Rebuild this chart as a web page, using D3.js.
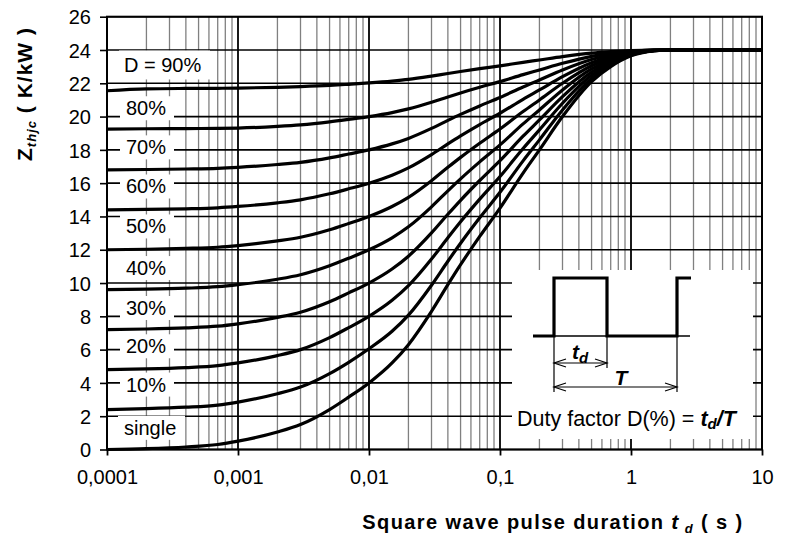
<!DOCTYPE html>
<html>
<head>
<meta charset="utf-8">
<script src="https://cdn.jsdelivr.net/npm/d3@7"></script>
<style>
  body { margin: 0; background: #fff; }
  svg { display: block; font-family: "Liberation Sans", Arial, sans-serif; }
</style>
</head>
<body>
<svg id="chart" width="786" height="538"></svg>
<script>
// Pulse duration t_d (s) at which each curve is sampled
const pulseDuration = [1e-4, 2e-4, 4e-4, 7e-4, 1e-3, 2e-3, 3e-3, 5e-3, 7e-3, 1e-2, 1.5e-2, 2e-2, 3e-2, 4e-2, 5e-2, 7e-2, 0.1, 0.15, 0.2, 0.3, 0.5, 0.7, 1, 1.5, 2, 10];

// Transient thermal impedance Z_thjc (K/kW) for each duty factor
const zSingle = [0, 0.05, 0.15, 0.3, 0.5, 1.05, 1.5, 2.4, 3.15, 4.0, 5.2, 6.3, 8.3, 9.9, 11.1, 12.8, 14.5, 16.6, 18.0, 20.0, 22.1, 23.0, 23.65, 23.95, 24, 24];
const zD10 = [2.4, 2.45, 2.54, 2.67, 2.85, 3.35, 3.75, 4.56, 5.24, 6.05, 7.1, 8.07, 9.87, 11.31, 12.39, 13.92, 15.45, 17.34, 18.6, 20.4, 22.29, 23.1, 23.69, 23.96, 24, 24];
const zD20 = [4.8, 4.84, 4.92, 5.04, 5.2, 5.64, 6.0, 6.72, 7.32, 8.0, 8.96, 9.84, 11.44, 12.72, 13.68, 15.04, 16.4, 18.08, 19.2, 20.8, 22.48, 23.2, 23.72, 23.96, 24, 24];
const zD30 = [7.2, 7.24, 7.31, 7.41, 7.55, 7.94, 8.25, 8.88, 9.41, 10.0, 10.84, 11.61, 13.01, 14.13, 14.97, 16.16, 17.35, 18.82, 19.8, 21.2, 22.67, 23.3, 23.76, 23.97, 24, 24];
const zD40 = [9.6, 9.63, 9.69, 9.78, 9.9, 10.23, 10.5, 11.04, 11.49, 12.0, 12.72, 13.38, 14.58, 15.54, 16.26, 17.28, 18.3, 19.56, 20.4, 21.6, 22.86, 23.4, 23.79, 23.97, 24, 24];
const zD50 = [12, 12.03, 12.08, 12.15, 12.25, 12.53, 12.75, 13.2, 13.58, 14.0, 14.6, 15.15, 16.15, 16.95, 17.55, 18.4, 19.25, 20.3, 21.0, 22.0, 23.05, 23.5, 23.83, 23.98, 24, 24];
const zD60 = [14.4, 14.42, 14.46, 14.52, 14.6, 14.82, 15.0, 15.36, 15.66, 16.0, 16.48, 16.92, 17.72, 18.36, 18.84, 19.52, 20.2, 21.04, 21.6, 22.4, 23.24, 23.6, 23.86, 23.98, 24, 24];
const zD70 = [16.8, 16.82, 16.85, 16.89, 16.95, 17.12, 17.25, 17.52, 17.75, 18.0, 18.36, 18.69, 19.29, 19.77, 20.13, 20.64, 21.15, 21.78, 22.2, 22.8, 23.43, 23.7, 23.9, 23.99, 24, 24];
const zD80 = [19.25, 19.27, 19.28, 19.29, 19.31, 19.41, 19.5, 19.68, 19.83, 20.0, 20.24, 20.46, 20.86, 21.18, 21.42, 21.76, 22.1, 22.52, 22.8, 23.2, 23.62, 23.8, 23.93, 23.99, 24, 24];
const zD90 = [21.55, 21.66, 21.69, 21.7, 21.71, 21.76, 21.8, 21.87, 21.94, 22.02, 22.13, 22.23, 22.43, 22.59, 22.71, 22.88, 23.05, 23.26, 23.4, 23.6, 23.81, 23.9, 23.97, 24.0, 24, 24];

const seriesNames = ["single", "10%", "20%", "30%", "40%", "50%", "60%", "70%", "80%", "D = 90%"];
const seriesValues = [zSingle, zD10, zD20, zD30, zD40, zD50, zD60, zD70, zD80, zD90];

// Axis ticks
const xTickValues = [1e-4, 1e-3, 1e-2, 1e-1, 1, 10];
const xTickLabels = ["0,0001", "0,001", "0,01", "0,1", "1", "10"];
const yTickValues = [0, 2, 4, 6, 8, 10, 12, 14, 16, 18, 20, 22, 24, 26];

// ---- layout ----
const plot = { left: 107, right: 762, top: 16.7, bottom: 449.5 };
const svg = d3.select("#chart");

const x = d3.scaleLog().domain([1e-4, 10]).range([plot.left, plot.right]);
const y = d3.scaleLinear().domain([0, 26]).range([plot.bottom, plot.top]);

// minor vertical grid (2..9 of every decade)
const minorX = [];
for (let e = -4; e < 1; e++) for (let m = 2; m <= 9; m++) minorX.push(m * Math.pow(10, e));

const grid = svg.append("g");
grid.selectAll("line.minor").data(minorX).join("line")
  .attr("x1", d => x(d)).attr("x2", d => x(d))
  .attr("y1", plot.top).attr("y2", plot.bottom)
  .attr("stroke", "#808080").attr("stroke-width", 1.3);

grid.selectAll("line.hmaj").data(yTickValues).join("line")
  .attr("x1", plot.left).attr("x2", plot.right)
  .attr("y1", d => y(d)).attr("y2", d => y(d))
  .attr("stroke", "#000").attr("stroke-width", 1.6);

grid.selectAll("line.vmaj").data(xTickValues).join("line")
  .attr("x1", d => x(d)).attr("x2", d => x(d))
  .attr("y1", plot.top).attr("y2", plot.bottom)
  .attr("stroke", "#000").attr("stroke-width", 1.8);

// ---- inset: duty factor sketch ----
const ib = { x: 512, y: 270, w: 241, h: 169 };
const inset = svg.append("g");
inset.append("rect").attr("x", ib.x).attr("y", ib.y).attr("width", ib.w).attr("height", ib.h).attr("fill", "#fff");

const base = ib.y + 66, high = ib.y + 8;
const xr1 = ib.x + 42, xf1 = ib.x + 95, xr2 = ib.x + 165;
inset.append("line").attr("x1", ib.x + 21).attr("x2", ib.x + 178).attr("y1", base).attr("y2", base)
  .attr("stroke", "#000").attr("stroke-width", 1.3);
inset.append("path")
  .attr("d", `M${ib.x + 21},${base}H${xr1}V${high}H${xf1}V${base}H${xr2}V${high}H${ib.x + 179}`)
  .attr("fill", "none").attr("stroke", "#000").attr("stroke-width", 3.2);

const tdY = ib.y + 93, TY = ib.y + 117;
[[xr1, ib.y + 122], [xf1, ib.y + 98], [xr2, ib.y + 122]].forEach(([px, py]) => {
  inset.append("line").attr("x1", px).attr("x2", px).attr("y1", base).attr("y2", py)
    .attr("stroke", "#000").attr("stroke-width", 1.2);
});
function dimArrow(x1, x2, yy) {
  const g = inset.append("g").attr("fill", "none").attr("stroke", "#000").attr("stroke-width", 1.2);
  g.append("line").attr("x1", x1).attr("x2", x2).attr("y1", yy).attr("y2", yy);
  g.append("path").attr("d", `M${x1 + 12},${yy - 4}L${x1},${yy}L${x1 + 12},${yy + 4}`);
  g.append("path").attr("d", `M${x2 - 12},${yy - 4}L${x2},${yy}L${x2 - 12},${yy + 4}`);
}
dimArrow(xr1, xf1, tdY);
dimArrow(xr1, xr2, TY);

const tdLabel = inset.append("text").attr("x", ib.x + 60).attr("y", ib.y + 89)
  .attr("font-size", 21).attr("font-weight", "bold").attr("font-style", "italic");
tdLabel.append("tspan").text("t");
tdLabel.append("tspan").attr("dy", 4).attr("font-size", 15).text("d");
inset.append("text").attr("x", ib.x + 109).attr("y", ib.y + 115)
  .attr("text-anchor", "middle").attr("font-size", 21).attr("font-weight", "bold")
  .attr("font-style", "italic").text("T");

const duty = inset.append("text").attr("x", ib.x + 5).attr("y", ib.y + 156).attr("font-size", 21.5);
duty.append("tspan").text("Duty factor D(%) = ");
duty.append("tspan").attr("font-weight", "bold").attr("font-style", "italic").text("t");
duty.append("tspan").attr("font-weight", "bold").attr("font-style", "italic").attr("font-size", 15).attr("dy", 3).text("d");
duty.append("tspan").attr("font-weight", "bold").attr("font-style", "italic").attr("dy", -3).text("/T");

// ---- curve labels (white boxes sitting on the grid) ----
const labelAt = [1.3, 3.9, 6.2, 8.5, 10.9, 13.4, 15.8, 18.15, 20.5, 23.1];
const labelBox = seriesNames.map(n => n === "single" ? { x: 118, w: 67 } : n.startsWith("D") ? { x: 119, w: 91 } : { x: 120, w: 54 });
const labels = svg.append("g");
seriesNames.forEach((name, i) => {
  const cy = y(labelAt[i]);
  const h = name.startsWith("D") ? 29 : 24;
  labels.append("rect").attr("x", labelBox[i].x).attr("y", cy - h / 2)
    .attr("width", labelBox[i].w).attr("height", h).attr("fill", "#fff");
  labels.append("text").attr("x", labelBox[i].x + (name.startsWith("D") ? 5 : 6)).attr("y", cy + 7)
    .attr("font-size", 20).text(name);
});

// ---- curves ----
const line = d3.line()
  .x((d, i) => x(pulseDuration[i]))
  .y(d => y(d))
  .curve(d3.curveMonotoneX);
svg.append("g").selectAll("path").data(seriesValues).join("path")
  .attr("d", line)
  .attr("fill", "none").attr("stroke", "#000").attr("stroke-width", 3.2)
  .attr("stroke-linejoin", "round");

// ---- axes ----
const xAxis = d3.axisBottom(x).tickValues(xTickValues).tickFormat((d, i) => xTickLabels[i]).tickSize(6).tickSizeOuter(0);
const gx = svg.append("g").attr("transform", `translate(0,${plot.bottom})`).call(xAxis);
gx.select(".domain").remove();
gx.selectAll(".tick line").attr("stroke", "#000").attr("stroke-width", 1.8);
gx.selectAll(".tick text").attr("font-size", 20).attr("font-family", "Liberation Sans, Arial, sans-serif")
  .attr("fill", "#000").attr("y", 20).attr("dy", "0.71em");

const yAxis = d3.axisLeft(y).tickValues(yTickValues).tickSize(7).tickSizeOuter(0);
const gy = svg.append("g").attr("transform", `translate(${plot.left},0)`).call(yAxis);
gy.select(".domain").remove();
gy.selectAll(".tick line").attr("stroke", "#000").attr("stroke-width", 1.6);
gy.selectAll(".tick text").attr("font-size", 20).attr("font-family", "Liberation Sans, Arial, sans-serif")
  .attr("fill", "#000").attr("x", -16).attr("dy", "0.36em");

// plot border
svg.append("rect").attr("x", plot.left).attr("y", plot.top)
  .attr("width", plot.right - plot.left).attr("height", plot.bottom - plot.top)
  .attr("fill", "none").attr("stroke", "#000").attr("stroke-width", 2);

// ---- axis titles ----
const xt = svg.append("text").attr("x", 553).attr("y", 529).attr("text-anchor", "middle")
  .attr("font-size", 20).attr("font-weight", "bold").attr("letter-spacing", 1.4);
xt.append("tspan").text("Square wave pulse duration ");
xt.append("tspan").attr("font-style", "italic").attr("font-size", 21).text("t");
xt.append("tspan").attr("font-style", "italic").attr("font-size", 13).attr("dy", 4).text(" d");
xt.append("tspan").attr("dy", -4).text(" ( s )");

const yt = svg.append("text").attr("transform", "translate(32,94) rotate(-90)")
  .attr("text-anchor", "middle").attr("font-size", 21).attr("font-weight", "bold").attr("letter-spacing", 1);
yt.append("tspan").text("Z");
yt.append("tspan").attr("font-style", "italic").attr("font-size", 13).attr("dy", 4).text("thjc");
yt.append("tspan").attr("dy", -4).text("  ( K/kW )");
</script>
</body>
</html>
